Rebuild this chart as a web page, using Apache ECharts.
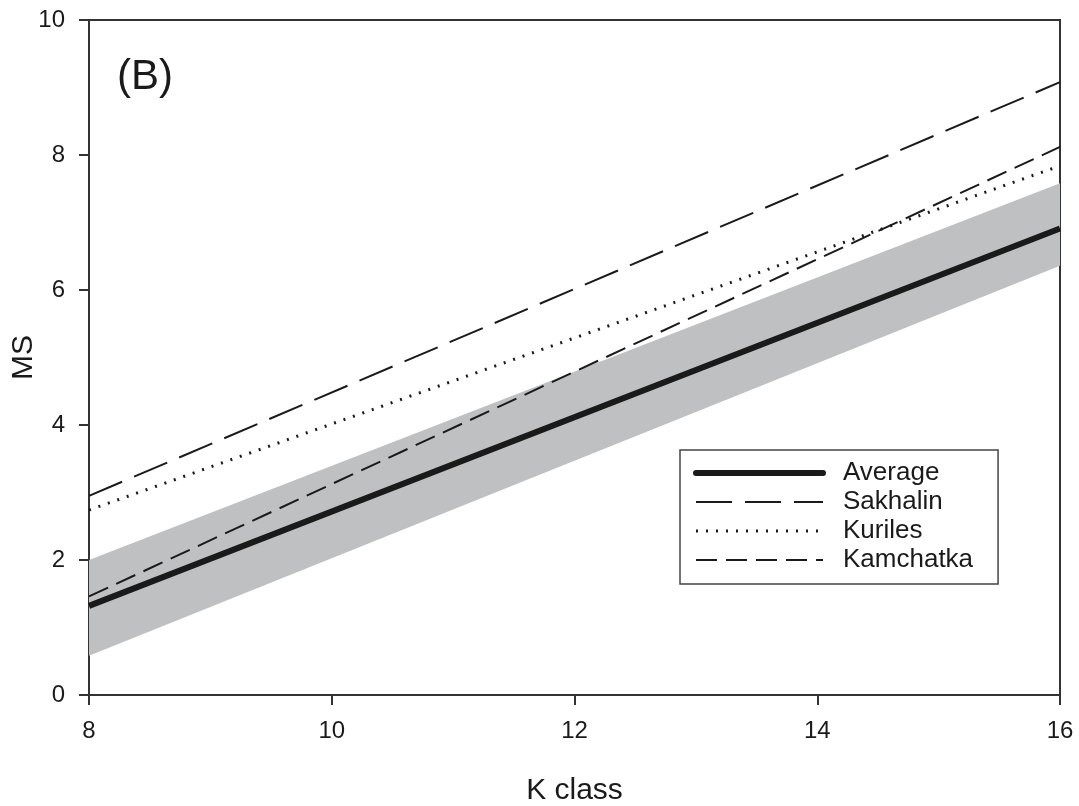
<!DOCTYPE html>
<html>
<head>
<meta charset="utf-8">
<title>MS vs K class</title>
<script src="https://cdn.jsdelivr.net/npm/echarts@6/dist/echarts.min.js"></script>
<style>
  html, body { margin: 0; padding: 0; background: #fff; }
  #chart { width: 1079px; height: 806px; }
</style>
</head>
<body>
<div id="chart"></div>
<script>
// K class end points (all lines are straight)
const kClass = [8, 16]
const average = [1.32, 6.91]
const sakhalin = [2.95, 9.08]
const kuriles = [2.74, 7.84]
const kamchatka = [1.46, 8.12]
// grey confidence band around the average
const bandLow = [0.58, 6.36]
const bandHigh = [2.0, 7.58]

const font = 'Liberation Sans, Arial, sans-serif'
const ink = '#1a1a1a'

function pairs(ys) {
  return kClass.map((x, i) => [x, ys[i]])
}

// hide the round marker ECharts puts in the middle of line legend icons
const noMarker = { color: 'rgba(0,0,0,0)', borderWidth: 0, opacity: 0 }

const chart = echarts.init(document.getElementById('chart'))

chart.setOption({
  animation: false,
  textStyle: { fontFamily: font },
  grid: {
    left: 89,
    right: 19,
    top: 20,
    bottom: 111,
    containLabel: false,
    outerBoundsMode: 'none',
    show: true,
    borderColor: '#333',
    borderWidth: 2
  },
  title: {
    text: '(B)',
    left: 112,
    top: 51,
    textStyle: { fontFamily: font, fontSize: 42, fontWeight: 'normal', color: ink }
  },
  legend: {
    orient: 'vertical',
    left: 680,
    top: 450,
    padding: [10, 25, 11, 13],
    itemWidth: 127,
    itemHeight: 20,
    itemGap: 3,
    borderColor: '#444',
    borderWidth: 1.5,
    backgroundColor: '#fff',
    selectedMode: false,
    textStyle: { fontFamily: font, fontSize: 26, lineHeight: 26, color: ink, padding: [0, 0, 0, 15] },
    data: [
      { name: 'Average', itemStyle: noMarker, lineStyle: { color: ink, width: 6, type: 'solid', cap: 'round' } },
      { name: 'Sakhalin', itemStyle: noMarker, lineStyle: { color: ink, width: 2, type: [36, 13] } },
      { name: 'Kuriles', itemStyle: noMarker, lineStyle: { color: ink, width: 3, type: [2, 8] } },
      { name: 'Kamchatka', itemStyle: noMarker, lineStyle: { color: ink, width: 2, type: [21, 9] } }
    ]
  },
  xAxis: {
    type: 'value',
    min: 8,
    max: 16,
    interval: 2,
    name: 'K class',
    nameLocation: 'middle',
    nameGap: 81,
    nameMoveOverlap: false,
    nameTextStyle: { fontFamily: font, fontSize: 30, color: ink },
    axisLine: { lineStyle: { color: '#333', width: 2 } },
    axisTick: { length: 10, lineStyle: { color: '#333', width: 2 } },
    axisLabel: { margin: 24, fontFamily: font, fontSize: 24, color: ink },
    splitLine: { show: false }
  },
  yAxis: {
    type: 'value',
    min: 0,
    max: 10,
    interval: 2,
    name: 'MS',
    nameLocation: 'middle',
    nameGap: 50,
    nameMoveOverlap: false,
    nameTextStyle: { fontFamily: font, fontSize: 30, color: ink },
    axisLine: { show: true, lineStyle: { color: '#333', width: 2 } },
    axisTick: { show: true, length: 10, lineStyle: { color: '#333', width: 2 } },
    axisLabel: { margin: 24, fontFamily: font, fontSize: 24, color: ink },
    splitLine: { show: false }
  },
  series: [
    {
      name: 'band',
      type: 'custom',
      silent: true,
      z: 1,
      data: kClass.map((x, i) => [x, bandLow[i], bandHigh[i]]),
      encode: { x: 0, y: [1, 2] },
      renderItem: function(params, api) {
        // build the polygon once, from the whole band, on the first item
        if (params.dataIndex !== 0) {
          return null
        }
        const upper = kClass.map((x, i) => api.coord([x, bandHigh[i]]))
        const lower = kClass.map((x, i) => api.coord([x, bandLow[i]])).reverse()
        return {
          type: 'polygon',
          shape: { points: upper.concat(lower) },
          style: { fill: '#bfc0c2' }
        }
      }
    },
    {
      name: 'Sakhalin',
      type: 'line',
      symbol: 'none',
      lineStyle: { color: ink, width: 2, type: [36, 13] },
      data: pairs(sakhalin),
      z: 3
    },
    {
      name: 'Kuriles',
      type: 'line',
      symbol: 'none',
      lineStyle: { color: ink, width: 3, type: [2, 8] },
      data: pairs(kuriles),
      z: 3
    },
    {
      name: 'Kamchatka',
      type: 'line',
      symbol: 'none',
      lineStyle: { color: ink, width: 2, type: [21, 9] },
      data: pairs(kamchatka),
      z: 3
    },
    {
      name: 'Average',
      type: 'line',
      symbol: 'none',
      lineStyle: { color: ink, width: 6 },
      data: pairs(average),
      z: 4
    }
  ]
})
</script>
</body>
</html>
